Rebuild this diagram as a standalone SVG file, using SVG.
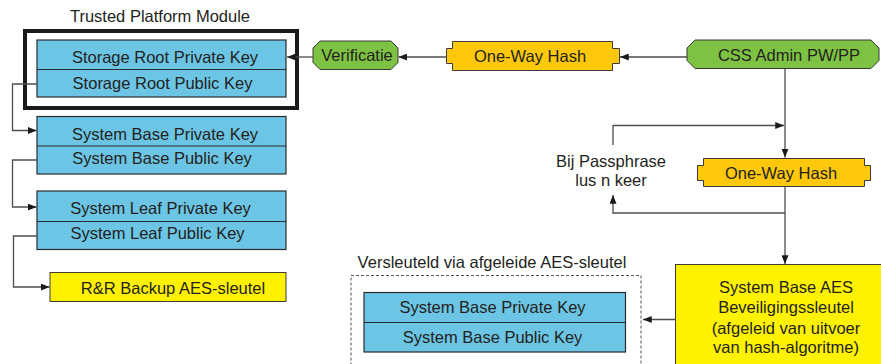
<svg xmlns="http://www.w3.org/2000/svg" width="881" height="364" viewBox="0 0 881 364">
<style>
text{font-family:"Liberation Sans",Arial,sans-serif;font-size:16.5px;fill:#231f20;text-anchor:middle}
.blue{fill:#6cc5e5;stroke:#2b2b2b;stroke-width:1.2}
.div{stroke:#2b2b2b;stroke-width:1.2}
.green{fill:#7dc242;stroke:#3a3a3a;stroke-width:1}
.orange{fill:#ffc80b;stroke:#3a3a3a;stroke-width:1}
.yellow{fill:#fff200;stroke:#3a3a3a;stroke-width:1}
.conn{fill:none;stroke:#4d4d4d;stroke-width:1.3}
</style>
<defs>
<marker id="ah" viewBox="0 0 10 8" refX="10" refY="4" markerWidth="9" markerHeight="7" markerUnits="userSpaceOnUse" orient="auto">
<path d="M0,0 L10,4 L0,8 Z" fill="#1a1a1a"/>
</marker>
</defs>

<g id="tpm">
<text x="160" y="22">Trusted Platform Module</text>
<rect x="25" y="31" width="272" height="77" fill="none" stroke="#1a1a1a" stroke-width="4"/>
</g>
<g id="storage-root">
<rect class="blue" x="37" y="40" width="249" height="57"/>
<line class="div" x1="37" y1="69.5" x2="286" y2="69.5"/>
<text x="165" y="63">Storage Root Private Key</text>
<text x="162.5" y="89">Storage Root Public Key</text>
</g>
<g id="system-base">
<rect class="blue" x="37" y="116.5" width="249" height="57.5"/>
<line class="div" x1="37" y1="146" x2="286" y2="146"/>
<text x="165" y="139.5">System Base Private Key</text>
<text x="162" y="163.5">System Base Public Key</text>
</g>
<g id="system-leaf">
<rect class="blue" x="37" y="191" width="249" height="58.5"/>
<line class="div" x1="37" y1="221.5" x2="286" y2="221.5"/>
<text x="160.5" y="213.5">System Leaf Private Key</text>
<text x="157.5" y="238.5">System Leaf Public Key</text>
</g>
<g id="rr-backup">
<rect class="yellow" x="50" y="272.5" width="236" height="29"/>
<text x="173" y="293.5">R&amp;R Backup AES-sleutel</text>
</g>
<g id="verificatie">
<polygon class="green" points="320,41 391,41 398,48 398,62.5 391,69.5 320,69.5 313,62.5 313,48"/>
<text x="357" y="61">Verificatie</text>
</g>
<g id="hash1">
<polygon class="orange" points="452.5,41.5 612.5,41.5 612.5,48.5 619.5,48.5 619.5,63.5 612.5,63.5 612.5,70.5 452.5,70.5 452.5,63.5 446.5,63.5 446.5,48.5 452.5,48.5"/>
<text x="530" y="62">One-Way Hash</text>
</g>
<g id="css-admin">
<polygon class="green" points="695,40 871,40 879,48 879,60.5 871,68.5 695,68.5 687,60.5 687,48"/>
<text x="789" y="61">CSS Admin PW/PP</text>
</g>
<g id="hash2">
<polygon class="orange" points="703.5,158.5 864.5,158.5 864.5,165.5 870.5,165.5 870.5,180.5 864.5,180.5 864.5,186.5 703.5,186.5 703.5,180.5 697.5,180.5 697.5,165.5 703.5,165.5"/>
<text x="781" y="178.5">One-Way Hash</text>
</g>
<g id="loop-label">
<text x="611" y="167">Bij Passphrase</text>
<text x="611" y="186">lus n keer</text>
</g>
<g id="aes-key">
<rect class="yellow" x="675.5" y="264.5" width="215" height="110"/>
<text x="786" y="292.5">System Base AES</text>
<text x="786" y="313">Beveiligingssleutel</text>
<text x="786" y="334">(afgeleid van uitvoer</text>
<text x="786" y="353">van hash-algoritme)</text>
</g>
<g id="encrypted">
<rect x="351" y="275.5" width="290" height="100" fill="none" stroke="#555" stroke-width="1" stroke-dasharray="3,2"/>
<text x="492" y="267.5">Versleuteld via afgeleide AES-sleutel</text>
<rect class="blue" x="364" y="292.5" width="261.5" height="59.5"/>
<line class="div" x1="364" y1="322.5" x2="625.5" y2="322.5"/>
<text x="492.5" y="312.5">System Base Private Key</text>
<text x="492.5" y="343">System Base Public Key</text>
</g>

<g id="connectors">
<path class="conn" d="M687,57 H620" marker-end="url(#ah)"/>
<path class="conn" d="M446.5,57 H398.5" marker-end="url(#ah)"/>
<path class="conn" d="M313,57 H287" marker-end="url(#ah)"/>
<path class="conn" d="M37,84 H12.5 V130.5 H36.5" marker-end="url(#ah)"/>
<path class="conn" d="M37,160 H12.5 V207 H36.5" marker-end="url(#ah)"/>
<path class="conn" d="M37,236 H13.5 V287 H49.5" marker-end="url(#ah)"/>
<path class="conn" d="M785,68.5 V157.5" marker-end="url(#ah)"/>
<path class="conn" d="M613,145 V125.5 H784" marker-end="url(#ah)"/>
<path class="conn" d="M785,186.5 V264" marker-end="url(#ah)"/>
<path class="conn" d="M785,213 H613 V195" marker-end="url(#ah)"/>
<path class="conn" d="M675.5,319.5 H643" marker-end="url(#ah)"/>
</g>
</svg>
